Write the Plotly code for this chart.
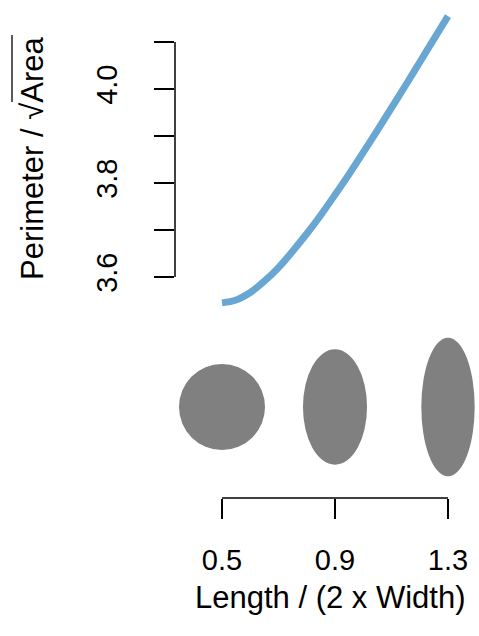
import plotly.graph_objects as go

# ---- data ----
ratio = [0.5, 0.55, 0.6, 0.65, 0.7, 0.75, 0.8, 0.85, 0.9, 0.95, 1.0, 1.05, 1.1, 1.15, 1.2, 1.25, 1.3]
perim_sqrt_area = [3.545, 3.551, 3.567, 3.591, 3.620, 3.655, 3.692, 3.732, 3.775,
                   3.819, 3.865, 3.912, 3.960, 4.008, 4.057, 4.106, 4.155]
shape_ratios = [0.5, 0.9, 1.3]
x_ticks = [0.5, 0.9, 1.3]
x_ticklabels = ["0.5", "0.9", "1.3"]
y_ticks = [3.6, 3.7, 3.8, 3.9, 4.0, 4.1]
y_ticklabels = ["3.6", "", "3.8", "", "4.0", ""]
x_title = "Length / (2 x Width)"
y_title = "Perimeter / \u221aArea"

FONT = "Liberation Sans, Arial, sans-serif"
FS = 29
FS_TITLE = 31
LINE_COLOR = "#69a7d2"
GREY = "#808080"

W, H = 479, 636
ml, mr, mt, mb = 175, 1, 3, 138
plot_w = W - ml - mr
plot_h = H - mt - mb
px_per_x = 282.5
x0v = 0.5 - (222 - ml) / px_per_x
x_range = [x0v, x0v + plot_w / px_per_x]

# top panel pixel range 3..315, bottom panel 330..498
y_dom = [(H - mb - 315) / plot_h, 1.0]
y2_dom = [0.0, (H - mb - 330) / plot_h]
px_per_y = 470.0
y_range = [3.6 - (315 - 277) / px_per_y, 4.1 + (42 - mt) / px_per_y]
y2_range = [0, (498 - 330) / px_per_x]
y2_center = (498 - 407) / px_per_x
R = 43 / px_per_x

fig = go.Figure()
fig.add_trace(go.Scatter(x=ratio, y=perim_sqrt_area, mode="lines",
                         line=dict(color=LINE_COLOR, width=7, shape="spline"),
                         xaxis="x", yaxis="y", showlegend=False, hoverinfo="skip"))

shapes = []
for r in shape_ratios:
    b = R / (2 * r) ** 0.5   # horizontal semi-axis (width / 2)
    a = R * (2 * r) ** 0.5   # vertical semi-axis (length / 2)
    shapes.append(dict(type="circle", xref="x", yref="y2",
                       x0=r - b, x1=r + b, y0=y2_center - a, y1=y2_center + a,
                       fillcolor=GREY, line=dict(width=0), layer="above"))
# R-style axis lines spanning only the tick range
shapes.append(dict(type="line", xref="paper", yref="y", x0=0, x1=0,
                   y0=y_ticks[0], y1=y_ticks[-1], line=dict(color="black", width=1.5)))
shapes.append(dict(type="line", xref="x", yref="paper", x0=x_ticks[0], x1=x_ticks[-1],
                   y0=0, y1=0, line=dict(color="black", width=1.5)))
# overline of the square root in the y title
shapes.append(dict(type="line", xref="paper", yref="paper",
                   x0=(12 - ml) / plot_w, x1=(12 - ml) / plot_w,
                   y0=(H - mb - 102) / plot_h, y1=(H - mb - 35) / plot_h,
                   line=dict(color="black", width=1.3)))

fig.update_layout(
    width=W, height=H,
    margin=dict(l=ml, r=mr, t=mt, b=mb),
    paper_bgcolor="white", plot_bgcolor="white",
    font=dict(family=FONT, size=FS, color="black"),
    xaxis=dict(domain=[0, 1], range=x_range, anchor="y2",
               tickvals=x_ticks, ticktext=x_ticklabels,
               ticks="outside", ticklen=20, tickwidth=1.5, tickcolor="black",
               ticklabelstandoff=16,
               showline=False, showgrid=False, zeroline=False),
    yaxis=dict(domain=y_dom, range=y_range, anchor="x",
               tickvals=y_ticks, ticktext=y_ticklabels, tickangle=-90,
               ticks="outside", ticklen=20, tickwidth=1.5, tickcolor="black",
               ticklabelstandoff=25,
               showline=False, showgrid=False, zeroline=False),
    yaxis2=dict(domain=y2_dom, range=y2_range, anchor="x",
                visible=False, showgrid=False, zeroline=False),
    shapes=shapes,
    annotations=[
        dict(text=y_title, textangle=-90,
             xref="paper", yref="paper",
             x=(32 - ml) / plot_w, y=(H - mb - 159) / plot_h,
             xanchor="center", yanchor="middle", showarrow=False,
             font=dict(size=FS_TITLE, family=FONT)),
        dict(text=x_title,
             xref="paper", yref="paper",
             x=(330 - ml) / plot_w, y=(H - mb - 597) / plot_h,
             xanchor="center", yanchor="middle", showarrow=False,
             font=dict(size=FS_TITLE, family=FONT)),
    ],
)

fig.write_html("out.html", config={"displayModeBar": False},
               post_script="document.body.style.margin='0';")
